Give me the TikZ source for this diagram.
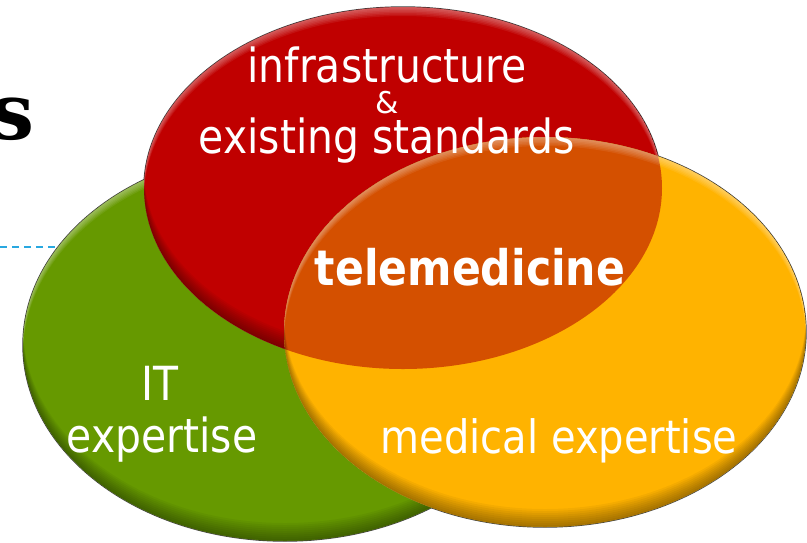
\documentclass[tikz,border=0pt]{standalone}
\usepackage{fontspec}
\setmainfont{DejaVu Sans}[FakeStretch=0.87]
\newfontfamily\headserif{DejaVu Serif}
\newfontfamily\ampfont{DejaVu Sans}
\definecolor{redE}{HTML}{C00000}
\definecolor{greenE}{HTML}{669900}
\definecolor{yellowE}{HTML}{FFB300}
\definecolor{orangeE}{HTML}{D45000}
\definecolor{blueL}{HTML}{29A8E0}
\newcommand\ellbevel[4]{%
  \begin{scope}
    \clip (#1,#2) ellipse [x radius=#3pt, y radius=#4pt];
    \foreach \k in {2,4,...,18}{%
      \fill[black, opacity=0.045, even odd rule]
        (#1,#2) ellipse [x radius=#3pt, y radius=#4pt]
        (#1,#2-\k) ellipse [x radius=#3pt, y radius=#4pt];}
    \foreach \k in {1.5,3,...,9}{%
      \fill[white, opacity=0.07, even odd rule]
        (#1,#2) ellipse [x radius=#3pt, y radius=#4pt]
        (#1,#2+\k) ellipse [x radius=#3pt, y radius=#4pt];}
  \end{scope}}
\begin{document}
\begin{tikzpicture}[x=1pt,y=-1pt,
  lbl/.style={text=white, inner sep=0pt, anchor=base, font=\fontsize{47}{50}\selectfont},
  edge/.style={draw=black!75, line width=1.4pt}]
\useasboundingbox (0,0) rectangle (807,542);
\fill[white] (0,0) rectangle (807,542);
% heading fragment
\node[inner sep=0pt, anchor=base east, font=\headserif\bfseries\fontsize{78}{80}\selectfont] (hs) at (35,139) {s};
% dashed line
\coordinate (dl) at (0,247);
\coordinate (dr) at (80,247);
\draw[blueL, line width=2pt, dash pattern=on 7pt off 5pt] (dl) -- (dr);
% outlines
\draw[edge] (285,345) ellipse [x radius=262pt, y radius=196pt];
\draw[edge] (403,188) ellipse [x radius=259pt, y radius=181pt];
\draw[edge] (545,332) ellipse [x radius=261pt, y radius=195pt];
% green
\fill[greenE] (285,345) ellipse [x radius=262pt, y radius=196pt];
\ellbevel{285}{345}{262}{196}
% red
\fill[redE] (403,188) ellipse [x radius=259pt, y radius=181pt];
\ellbevel{403}{188}{259}{181}
% yellow
\fill[yellowE] (545,332) ellipse [x radius=261pt, y radius=195pt];
\begin{scope}
  \clip (403,188) ellipse [x radius=259pt, y radius=181pt];
  \fill[orangeE] (545,332) ellipse [x radius=261pt, y radius=195pt];
\end{scope}
\ellbevel{545}{332}{261}{195}
% labels
\node[lbl] (infra) at (387,82) {infrastructure};
\node[lbl, font=\ampfont\fontsize{30}{32}\selectfont] (amp) at (387,113) {\&};
\node[lbl] (exist) at (387,153) {existing standards};
\node[lbl, font=\bfseries\fontsize{49}{52}\selectfont] (tele) at (470,285) {telemedicine};
\node[lbl] (it) at (160,400) {IT};
\node[lbl] (itexp) at (162,452) {expertise};
\node[lbl, font=\fontsize{46}{50}\selectfont] (med) at (559,453) {medical expertise};
\end{tikzpicture}
\end{document}
